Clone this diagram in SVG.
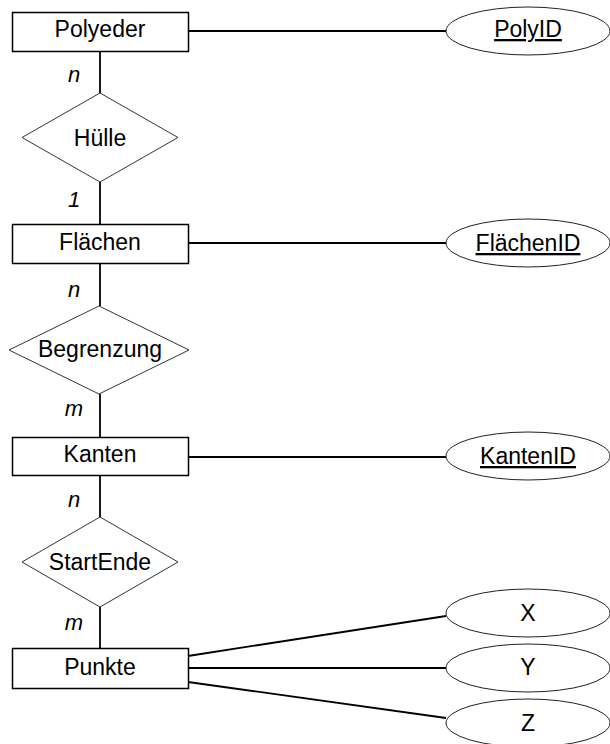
<svg xmlns="http://www.w3.org/2000/svg" width="610" height="744" viewBox="0 0 610 744">
<style>
.ent{fill:#fff;stroke:#000;stroke-width:1.5}
.rel{fill:#fff;stroke:#333;stroke-width:1}
.att{fill:#fff;stroke:#222;stroke-width:1}
.t{font-family:"Liberation Sans",Arial,sans-serif;font-size:23px;text-anchor:middle;fill:#000}
.k{text-decoration:underline}
.c{font-family:"Liberation Sans",Arial,sans-serif;font-size:22px;font-style:italic;text-anchor:middle;fill:#000}
.ln{stroke:#000;stroke-width:1.8;fill:none}
</style>
<rect width="610" height="744" fill="#fff"/>
<g id="connectors">
<line class="ln" x1="100" y1="51" x2="100" y2="93"/>
<line class="ln" x1="100" y1="182" x2="100" y2="224"/>
<line class="ln" x1="100" y1="263" x2="100" y2="306"/>
<line class="ln" x1="100" y1="394" x2="100" y2="437"/>
<line class="ln" x1="100" y1="475" x2="100" y2="517"/>
<line class="ln" x1="100" y1="607" x2="100" y2="648"/>
<line class="ln" x1="188" y1="31" x2="446" y2="31"/>
<line class="ln" x1="188" y1="243" x2="446" y2="243"/>
<line class="ln" x1="188" y1="457" x2="446" y2="457"/>
<line class="ln" x1="188" y1="656" x2="446" y2="616"/>
<line class="ln" x1="188" y1="668" x2="446" y2="668"/>
<line class="ln" x1="188" y1="682" x2="446" y2="718"/>
<text class="c" x="74" y="82">n</text>
<text class="c" x="74" y="207">1</text>
<text class="c" x="74" y="297">n</text>
<text class="c" x="74" y="416">m</text>
<text class="c" x="74" y="507">n</text>
<text class="c" x="74" y="630">m</text>
</g>
<g id="Polyeder"><rect class="ent" x="12.5" y="12.5" width="176" height="39"/><text class="t" x="100" y="37">Polyeder</text></g>
<g id="Huelle"><polygon class="rel" points="100,93 178,137.5 100,182 22,137.5"/><text class="t" x="100" y="146">Hülle</text></g>
<g id="Flaechen"><rect class="ent" x="12.5" y="224.5" width="176" height="39"/><text class="t" x="100" y="250">Flächen</text></g>
<g id="Begrenzung"><polygon class="rel" points="99,306 189,350 99,394 9,350"/><text class="t" x="100" y="357">Begrenzung</text></g>
<g id="Kanten"><rect class="ent" x="12.5" y="437.5" width="176" height="38"/><text class="t" x="100" y="462">Kanten</text></g>
<g id="StartEnde"><polygon class="rel" points="100,517 178,562 100,607 22,562"/><text class="t" x="100" y="570">StartEnde</text></g>
<g id="Punkte"><rect class="ent" x="12.5" y="648.5" width="176" height="40"/><text class="t" x="100" y="675">Punkte</text></g>
<g id="PolyID"><ellipse class="att" cx="528" cy="31" rx="82" ry="24"/><text class="t k" x="528" y="37">PolyID</text></g>
<g id="FlaechenID"><ellipse class="att" cx="528" cy="243" rx="82" ry="24"/><text class="t k" x="528" y="251">FlächenID</text></g>
<g id="KantenID"><ellipse class="att" cx="528" cy="456" rx="82" ry="24"/><text class="t k" x="528" y="464">KantenID</text></g>
<g id="X"><ellipse class="att" cx="528" cy="613" rx="82" ry="24"/><text class="t" x="528" y="621">X</text></g>
<g id="Y"><ellipse class="att" cx="528" cy="668" rx="82" ry="24"/><text class="t" x="528" y="675">Y</text></g>
<g id="Z"><ellipse class="att" cx="528" cy="723" rx="82" ry="24"/><text class="t" x="528" y="731">Z</text></g>
</svg>
